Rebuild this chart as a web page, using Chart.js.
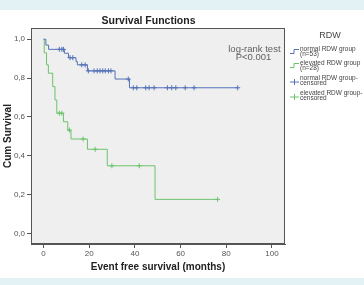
<!DOCTYPE html>
<html><head><meta charset="utf-8">
<script src="https://cdn.jsdelivr.net/npm/chart.js@4/dist/chart.umd.min.js"></script>
<style>html,body{margin:0;padding:0;background:#fff;}#wrap{width:364px;height:285px;position:relative;}</style>
</head><body><div id="wrap"><canvas id="c" width="364" height="285"></canvas></div>
<script>
// ---- data ----
const normalTimes = [0, 1.0, 2.2, 9.1, 10.9, 14.2, 14.8, 19.2, 31.3, 37.6, 85];
const normalSurv  = [1.0, 0.97, 0.948, 0.928, 0.905, 0.885, 0.868, 0.837, 0.795, 0.75, 0.75];
const normalCensTimes = [6.9, 8.0, 8.7, 11.6, 12.8, 16.7, 18.2, 19.6, 22.1, 23.5, 24.7, 25.9, 27.0, 28.4, 29.5, 37.1, 39.3, 40.8, 44.7, 46.2, 48.4, 54.2, 56.1, 57.9, 62.0, 65.9, 85];
const normalCensSurv  = [0.948, 0.948, 0.948, 0.905, 0.905, 0.868, 0.868, 0.837, 0.837, 0.837, 0.837, 0.837, 0.837, 0.837, 0.837, 0.795, 0.75, 0.75, 0.75, 0.75, 0.75, 0.75, 0.75, 0.75, 0.75, 0.75, 0.75];

const elevTimes = [0, 0.3, 1.3, 2.1, 4.0, 5.0, 5.8, 8.7, 10.6, 12.0, 19.2, 27.9, 48.8, 76.2];
const elevSurv  = [1.0, 0.93, 0.868, 0.825, 0.756, 0.687, 0.619, 0.575, 0.532, 0.486, 0.433, 0.348, 0.175, 0.175];
const elevCensTimes = [6.9, 8.0, 11.3, 17.3, 22.6, 29.9, 41.9, 76.2];
const elevCensSurv  = [0.619, 0.619, 0.532, 0.486, 0.433, 0.348, 0.348, 0.175];

const xTicks = [0, 20, 40, 60, 80, 100];
const yTicks = [0, 0.2, 0.4, 0.6, 0.8, 1.0];
const yTickLabels = ['0,0', '0,2', '0,4', '0,6', '0,8', '1,0'];
const seriesNames = ['normal RDW group', 'elevated RDW group'];
const seriesN = ['(n=53)', '(n=28)'];

const BLUE = '#5472b8';
const GREEN = '#6cc36c';
const pts = (xs, ys) => xs.map((x, i) => ({x: x, y: ys[i]}));

const decor = {
  id: 'decor',
  beforeDraw(chart) {
    const ctx = chart.ctx, a = chart.chartArea;
    ctx.save();
    ctx.fillStyle = '#ffffff';
    ctx.fillRect(0, 0, chart.width, chart.height);
    ctx.fillStyle = '#e2f2f5';
    ctx.fillRect(0, 0, chart.width, 10);
    ctx.fillRect(0, 278, chart.width, 7);
    ctx.fillStyle = '#efefef';
    ctx.fillRect(a.left, a.top, a.right - a.left, a.bottom - a.top);
    ctx.restore();
  },
  afterDraw(chart) {
    const ctx = chart.ctx, a = chart.chartArea;
    const xs = chart.scales.x, ys = chart.scales.y;
    ctx.save();
    // frame
    ctx.strokeStyle = '#555';
    ctx.lineWidth = 1;
    ctx.strokeRect(a.left + 0.5, a.top + 0.5, a.right - a.left - 1, a.bottom - a.top - 1);
    // titles
    ctx.fillStyle = '#222';
    ctx.textAlign = 'center';
    ctx.textBaseline = 'middle';
    ctx.font = 'bold 10.5px "Liberation Sans", Arial, sans-serif';
    ctx.fillText('Survival Functions', 148.5, 21);
    ctx.font = 'bold 10px "Liberation Sans", Arial, sans-serif';
    ctx.fillText('Event free survival (months)', (a.left + a.right) / 2, 267);
    ctx.save();
    ctx.translate(8, (a.top + a.bottom) / 2);
    ctx.rotate(-Math.PI / 2);
    ctx.fillText('Cum Survival', 0, 0);
    ctx.restore();
    // log-rank annotation
    ctx.fillStyle = '#606060';
    ctx.font = '9.5px "Liberation Sans", Arial, sans-serif';
    ctx.fillText('log-rank test', xs.getPixelForValue(92.3), ys.getPixelForValue(0.95));
    ctx.fillText('P<0.001', xs.getPixelForValue(91.9), ys.getPixelForValue(0.907));
    // legend
    ctx.fillStyle = '#444';
    ctx.font = '9px "Liberation Sans", Arial, sans-serif';
    ctx.fillText('RDW', 330, 36);
    ctx.textAlign = 'left';
    ctx.font = '6.5px "Liberation Sans", Arial, sans-serif';
    const lx = a.right + 5;
    const items = [
      {c: BLUE, step: true, l1: seriesNames[0], l2: seriesN[0], y: 51},
      {c: GREEN, step: true, l1: seriesNames[1], l2: seriesN[1], y: 65},
      {c: BLUE, step: false, l1: seriesNames[0] + '-', l2: 'censored', y: 80},
      {c: GREEN, step: false, l1: seriesNames[1] + '-', l2: 'censored', y: 95}
    ];
    items.forEach(it => {
      ctx.strokeStyle = it.c;
      ctx.lineWidth = 1;
      ctx.beginPath();
      if (it.step) {
        ctx.moveTo(lx, it.y + 2.5); ctx.lineTo(lx + 4, it.y + 2.5);
        ctx.lineTo(lx + 4, it.y - 1.5); ctx.lineTo(lx + 9, it.y - 1.5);
      } else {
        ctx.moveTo(lx, it.y + 2); ctx.lineTo(lx + 9, it.y + 2);
        ctx.moveTo(lx + 4.5, it.y - 1); ctx.lineTo(lx + 4.5, it.y + 5);
      }
      ctx.stroke();
      ctx.fillStyle = '#444';
      ctx.fillText(it.l1, lx + 10, it.y - 1.8);
      ctx.fillText(it.l2, lx + 10, it.y + 3.6);
    });
    ctx.restore();
  }
};

new Chart(document.getElementById('c'), {
  type: 'line',
  data: {
    datasets: [
      {label: seriesNames[0], data: pts(normalTimes, normalSurv), stepped: 'before', borderColor: BLUE, borderWidth: 1, pointRadius: 0, fill: false},
      {label: seriesNames[1], data: pts(elevTimes, elevSurv), stepped: 'before', borderColor: GREEN, borderWidth: 1, pointRadius: 0, fill: false},
      {label: seriesNames[0] + '-censored', data: pts(normalCensTimes, normalCensSurv), showLine: false, pointStyle: 'cross', pointRadius: 2.5, borderColor: BLUE, borderWidth: 1},
      {label: seriesNames[1] + '-censored', data: pts(elevCensTimes, elevCensSurv), showLine: false, pointStyle: 'cross', pointRadius: 2.5, borderColor: GREEN, borderWidth: 1}
    ]
  },
  options: {
    responsive: false,
    animation: false,
    devicePixelRatio: 1,
    layout: {padding: {top: 28, right: 79, left: 0, bottom: 0}},
    plugins: {legend: {display: false}, title: {display: false}, tooltip: {enabled: false}},
    scales: {
      x: {
        type: 'linear', min: -5.5, max: 105.7,
        afterBuildTicks: s => { s.ticks = xTicks.map(v => ({value: v})); },
        afterFit: s => { s.height = 41; },
        grid: {drawOnChartArea: false, drawTicks: true, tickLength: 4, color: '#555'},
        border: {display: true, color: '#555'},
        ticks: {padding: 1, color: '#555', font: {family: '"Liberation Sans", Arial, sans-serif', size: 8}, maxRotation: 0, callback: v => String(v)}
      },
      y: {
        type: 'linear', min: -0.055, max: 1.058,
        afterBuildTicks: s => { s.ticks = yTicks.map(v => ({value: v})); },
        afterFit: s => { s.width = 31; },
        grid: {drawOnChartArea: false, drawTicks: true, tickLength: 4, color: '#555'},
        border: {display: true, color: '#555'},
        ticks: {padding: 2, color: '#555', font: {family: '"Liberation Sans", Arial, sans-serif', size: 8}, callback: (v) => yTickLabels[yTicks.findIndex(t => Math.abs(t - v) < 1e-6)]}
      }
    }
  },
  plugins: [decor]
});
</script>
</body></html>
